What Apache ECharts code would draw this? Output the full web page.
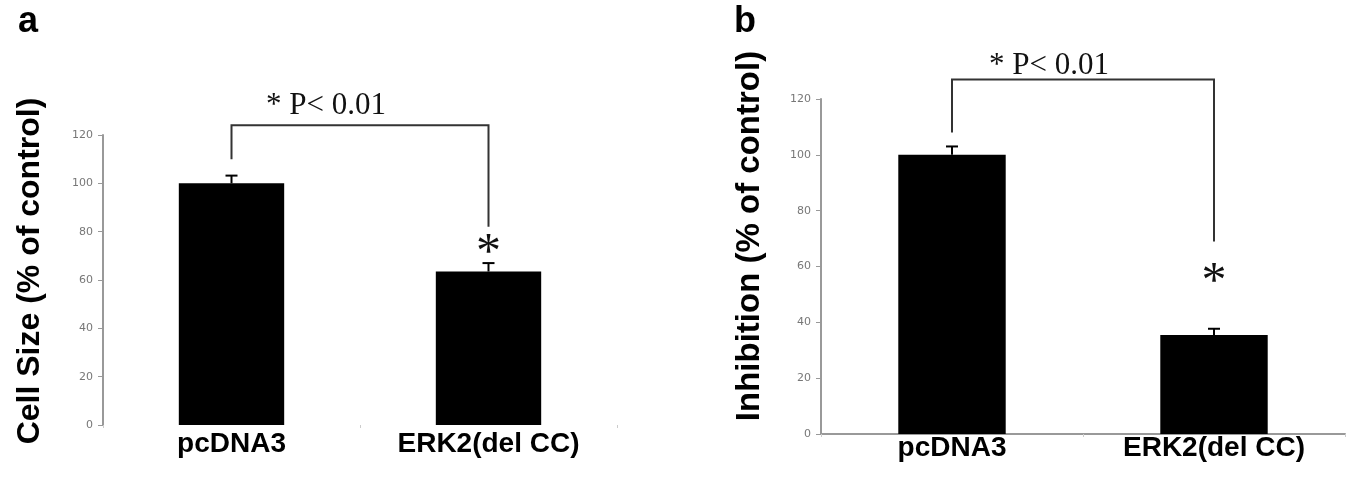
<!DOCTYPE html>
<html>
<head>
    <meta charset="utf-8">
    <script src="https://cdn.jsdelivr.net/npm/echarts@6/dist/echarts.min.js"></script>
    <style>
        body { margin: 0; padding: 0; background: #fff; }
        #chart { width: 1352px; height: 480px; }
    </style>
</head>
<body>
    <div id="chart"></div>
    <script>
        // categories + values
        var groups = ['pcDNA3', 'ERK2(del CC)'];
        var yTicks = [0, 20, 40, 60, 80, 100, 120];

        var cellSize = [100, 63.5];
        var cellSizeErr = [3.2, 3.5];
        var inhibition = [100, 35.5];
        var inhibitionErr = [3, 2.2];

        // significance bracket: [left leg end, bar level, right leg end]
        var bracketA = [110, 124, 82];
        var bracketB = [108, 127, 69];
        var pTextLevel = [132, 132];
        var starLevel = [74.5, 57.5];

        var chart = echarts.init(document.getElementById('chart'));

        function errorSeries(idx, vals, errs) {
            return {
                type: 'custom',
                xAxisIndex: idx,
                yAxisIndex: idx,
                z: 3,
                data: vals.map(function (v, i) { return [i, v, v + errs[i]]; }),
                renderItem: function (params, api) {
                    var lo = api.coord([api.value(0), api.value(1)]);
                    var hi = api.coord([api.value(0), api.value(2)]);
                    var st = { stroke: '#000', lineWidth: 2 };
                    return {
                        type: 'group',
                        children: [
                            { type: 'line', shape: { x1: hi[0], y1: lo[1], x2: hi[0], y2: hi[1] }, style: st },
                            { type: 'line', shape: { x1: hi[0] - 6, y1: hi[1], x2: hi[0] + 6, y2: hi[1] }, style: st }
                        ]
                    };
                }
            };
        }

        function bracketSeries(idx, levels, pLevel, sLevel) {
            return {
                type: 'custom',
                xAxisIndex: idx,
                yAxisIndex: idx,
                clip: false,
                z: 4,
                data: [[0, 1]],
                renderItem: function (params, api) {
                    var a = api.coord([0, levels[0]]);
                    var top = api.coord([0, levels[1]]);
                    var b = api.coord([1, levels[2]]);
                    var topR = api.coord([1, levels[1]]);
                    var pt = api.coord([0, pLevel]);
                    var star = api.coord([1, sLevel]);
                    return {
                        type: 'group',
                        children: [
                            {
                                type: 'polyline',
                                shape: { points: [[a[0], a[1]], [top[0], top[1]], [topR[0], topR[1]], [b[0], b[1]]] },
                                style: { stroke: '#333', lineWidth: 2, fill: null }
                            },
                            {
                                type: 'text',
                                style: {
                                    x: (a[0] + b[0]) / 2 - 34, y: pt[1],
                                    text: '* P< 0.01',
                                    font: '31px "Liberation Serif"',
                                    fill: '#111', align: 'center', verticalAlign: 'middle'
                                }
                            },
                            {
                                type: 'text',
                                style: {
                                    x: star[0], y: star[1] + 9,
                                    text: '*',
                                    font: '50px "Liberation Serif"',
                                    fill: '#111', align: 'center', verticalAlign: 'middle'
                                }
                            }
                        ]
                    };
                }
            };
        }

        function yAxisCfg(idx) {
            return {
                type: 'value',
                gridIndex: idx,
                min: yTicks[0],
                max: yTicks[yTicks.length - 1],
                interval: 20,
                splitLine: { show: false },
                axisLine: { show: true, lineStyle: { color: '#999', width: 2 } },
                axisTick: { show: true, length: 5, lineStyle: { color: '#999' } },
                axisLabel: { color: '#777', fontSize: 11, fontFamily: 'DejaVu Sans', margin: 10 }
            };
        }

        function xAxisCfg(idx, showLine, margin) {
            return {
                type: 'category',
                gridIndex: idx,
                data: groups,
                axisLine: { show: showLine, lineStyle: { color: '#999', width: 2 } },
                axisTick: { show: true, length: 3, lineStyle: { color: '#ccc' } },
                axisLabel: {
                    color: '#000', fontSize: 28, fontWeight: 'bold',
                    fontFamily: 'Liberation Sans', margin: margin
                }
            };
        }

        chart.setOption({
            animation: false,
            grid: [
                { left: 103, top: 135, width: 514, height: 290 },
                { left: 821, top: 99, width: 524, height: 335 }
            ],
            xAxis: [xAxisCfg(0, false, 5), xAxisCfg(1, true, 0)],
            yAxis: [yAxisCfg(0), yAxisCfg(1)],
            graphic: [
                { type: 'text', left: 18, top: 4, style: { text: 'a', font: 'bold 36px "Liberation Sans"', fill: '#000' } },
                { type: 'text', left: 734, top: 4, style: { text: 'b', font: 'bold 36px "Liberation Sans"', fill: '#000' } },
                {
                    type: 'text', x: 30, y: 271, rotation: Math.PI / 2,
                    style: {
                        text: 'Cell Size (% of control)', font: 'bold 32px "Liberation Sans"',
                        fill: '#000', align: 'center', verticalAlign: 'middle'
                    }
                },
                {
                    type: 'text', x: 750, y: 236, rotation: Math.PI / 2,
                    style: {
                        text: 'Inhibition (% of control)', font: 'bold 33px "Liberation Sans"',
                        fill: '#000', align: 'center', verticalAlign: 'middle'
                    }
                }
            ],
            series: [
                {
                    type: 'bar', xAxisIndex: 0, yAxisIndex: 0,
                    data: cellSize, barWidth: '41%',
                    itemStyle: { color: '#000' }
                },
                {
                    type: 'bar', xAxisIndex: 1, yAxisIndex: 1,
                    data: inhibition, barWidth: '41%',
                    itemStyle: { color: '#000' }
                },
                errorSeries(0, cellSize, cellSizeErr),
                errorSeries(1, inhibition, inhibitionErr),
                bracketSeries(0, bracketA, pTextLevel[0], starLevel[0]),
                bracketSeries(1, bracketB, pTextLevel[1], starLevel[1])
            ]
        });
    </script>
</body>
</html>
